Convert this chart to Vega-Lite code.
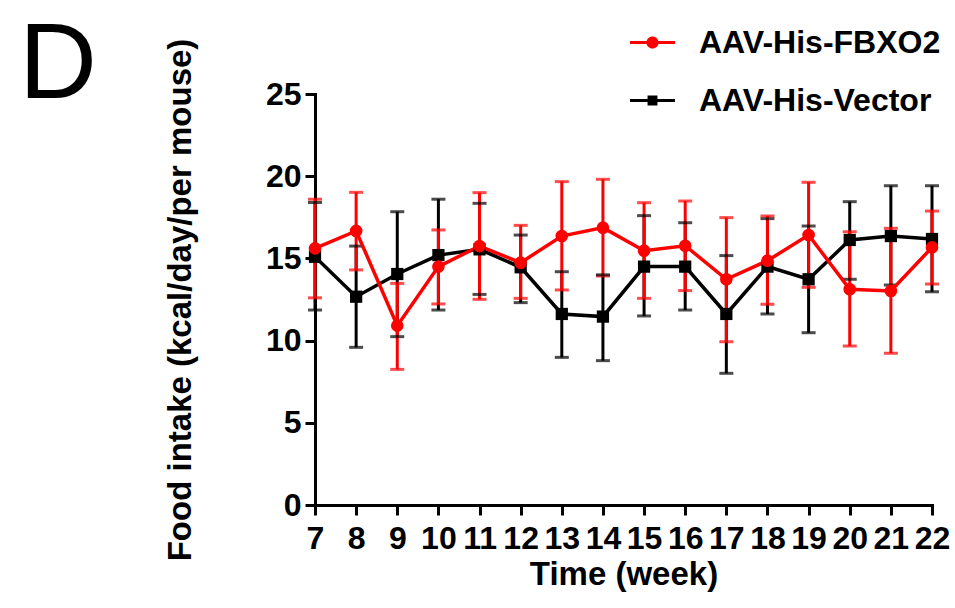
{
  "$schema": "https://vega.github.io/schema/vega-lite/v6.json",
  "width": 617,
  "height": 411,
  "autosize": {"type": "none"},
  "padding": {"left": 315, "top": 94, "right": 23, "bottom": 103},
  "background": "white",
  "config": {
    "view": {"stroke": null},
    "font": "Liberation Sans",
    "axis": {"labelFont": "Liberation Sans", "titleFont": "Liberation Sans", "labelFontWeight": "bold", "titleFontWeight": "bold", "labelColor": "black", "titleColor": "black", "domainColor": "black", "tickColor": "black", "domainWidth": 3, "tickWidth": 3, "tickSize": 10, "grid": false, "domainCap": "square"}
  },
  "title": {"text": "D", "anchor": "start", "frame": "group", "orient": "none", "baseline": "alphabetic", "align": "left", "dx": -296, "offset": 0, "dy": 4, "fontSize": 108, "fontWeight": "normal", "font": "Liberation Sans", "color": "black"},
  "data": {"values": [
    {"week": 7, "group": "AAV-His-Vector", "mean": 15.1, "lo": 11.86, "hi": 18.4},
    {"week": 8, "group": "AAV-His-Vector", "mean": 12.67, "lo": 9.59, "hi": 15.75},
    {"week": 9, "group": "AAV-His-Vector", "mean": 14.05, "lo": 10.24, "hi": 17.84},
    {"week": 10, "group": "AAV-His-Vector", "mean": 15.2, "lo": 11.86, "hi": 18.6},
    {"week": 11, "group": "AAV-His-Vector", "mean": 15.55, "lo": 12.81, "hi": 18.35},
    {"week": 12, "group": "AAV-His-Vector", "mean": 14.46, "lo": 12.31, "hi": 16.42},
    {"week": 13, "group": "AAV-His-Vector", "mean": 11.62, "lo": 8.98, "hi": 14.19},
    {"week": 14, "group": "AAV-His-Vector", "mean": 11.46, "lo": 8.78, "hi": 14.0},
    {"week": 15, "group": "AAV-His-Vector", "mean": 14.5, "lo": 11.5, "hi": 17.6},
    {"week": 16, "group": "AAV-His-Vector", "mean": 14.5, "lo": 11.86, "hi": 17.17},
    {"week": 17, "group": "AAV-His-Vector", "mean": 11.62, "lo": 8.01, "hi": 15.17},
    {"week": 18, "group": "AAV-His-Vector", "mean": 14.5, "lo": 11.62, "hi": 17.42},
    {"week": 19, "group": "AAV-His-Vector", "mean": 13.73, "lo": 10.48, "hi": 16.97},
    {"week": 20, "group": "AAV-His-Vector", "mean": 16.12, "lo": 13.73, "hi": 18.45},
    {"week": 21, "group": "AAV-His-Vector", "mean": 16.36, "lo": 13.38, "hi": 19.42},
    {"week": 22, "group": "AAV-His-Vector", "mean": 16.18, "lo": 12.97, "hi": 19.42},
    {"week": 7, "group": "AAV-His-FBXO2", "mean": 15.61, "lo": 12.6, "hi": 18.6},
    {"week": 8, "group": "AAV-His-FBXO2", "mean": 16.67, "lo": 14.3, "hi": 19.02},
    {"week": 9, "group": "AAV-His-FBXO2", "mean": 10.91, "lo": 8.25, "hi": 13.48},
    {"week": 10, "group": "AAV-His-FBXO2", "mean": 14.5, "lo": 12.23, "hi": 16.73},
    {"week": 11, "group": "AAV-His-FBXO2", "mean": 15.75, "lo": 12.51, "hi": 19.0},
    {"week": 12, "group": "AAV-His-FBXO2", "mean": 14.74, "lo": 12.57, "hi": 17.01},
    {"week": 13, "group": "AAV-His-FBXO2", "mean": 16.36, "lo": 13.08, "hi": 19.67},
    {"week": 14, "group": "AAV-His-FBXO2", "mean": 16.87, "lo": 13.93, "hi": 19.81},
    {"week": 15, "group": "AAV-His-FBXO2", "mean": 15.47, "lo": 12.57, "hi": 18.39},
    {"week": 16, "group": "AAV-His-FBXO2", "mean": 15.77, "lo": 13.04, "hi": 18.49},
    {"week": 17, "group": "AAV-His-FBXO2", "mean": 13.73, "lo": 9.93, "hi": 17.48},
    {"week": 18, "group": "AAV-His-FBXO2", "mean": 14.86, "lo": 12.21, "hi": 17.58},
    {"week": 19, "group": "AAV-His-FBXO2", "mean": 16.42, "lo": 13.24, "hi": 19.63},
    {"week": 20, "group": "AAV-His-FBXO2", "mean": 13.12, "lo": 9.67, "hi": 16.62},
    {"week": 21, "group": "AAV-His-FBXO2", "mean": 13.02, "lo": 9.23, "hi": 16.83},
    {"week": 22, "group": "AAV-His-FBXO2", "mean": 15.67, "lo": 13.44, "hi": 17.88}
  ]},
  "encoding": {
    "x": {"field": "week", "type": "quantitative", "scale": {"domain": [7, 22], "nice": false, "zero": false},
      "axis": {"values": [7,8,9,10,11,12,13,14,15,16,17,18,19,20,21,22], "title": "Time (week)", "labelFontSize": 32, "titleFontSize": 33, "labelPadding": 8, "titlePadding": 4, "labelFlush": false}}
  },
  "layer": [
    {
      "mark": {"type": "rule", "strokeWidth": 3},
      "encoding": {
        "y": {"field": "lo", "type": "quantitative", "scale": {"domain": [0, 25], "nice": false},
          "axis": {"values": [0,5,10,15,20,25], "title": "Food intake (kcal/day/per mouse)", "labelFontSize": 32, "titleFontSize": 33, "labelPadding": 4, "titlePadding": 68}},
        "y2": {"field": "hi"},
        "color": {"field": "group", "type": "nominal", "scale": {"domain": ["AAV-His-FBXO2", "AAV-His-Vector"], "range": ["#ff0000", "#000000"]}}
      }
    },
    {
      "mark": {"type": "tick", "orient": "horizontal", "size": 14, "thickness": 3},
      "encoding": {"y": {"field": "lo", "type": "quantitative"}, "color": {"field": "group", "type": "nominal"}}
    },
    {
      "mark": {"type": "tick", "orient": "horizontal", "size": 14, "thickness": 3},
      "encoding": {"y": {"field": "hi", "type": "quantitative"}, "color": {"field": "group", "type": "nominal"}}
    },
    {
      "mark": {"type": "line", "strokeWidth": 3.5},
      "encoding": {
        "y": {"field": "mean", "type": "quantitative"},
        "color": {"field": "group", "type": "nominal",
          "legend": {
            "orient": "none", "legendX": 315, "legendY": -74, "direction": "vertical",
            "title": null, "symbolSize": 2025, "symbolStrokeWidth": 0,
            "labelFont": "Liberation Sans", "labelFontWeight": "bold", "labelFontSize": 32, "labelColor": "black", "labelOffset": 24, "labelLimit": 500, "rowPadding": 19,
            "encode": {"symbols": {"update": {
              "shape": {"signal": "datum.value == 'AAV-His-FBXO2' ? 'M-1,-0.07H1V0.07H-1Z M0.27,0 A0.27,0.27 0 1,1 -0.27,0 A0.27,0.27 0 1,1 0.27,0 Z' : 'M-1,-0.07H1V0.07H-1Z M-0.22,-0.22H0.22V0.22H-0.22Z'"},
              "fill": {"signal": "datum.value == 'AAV-His-FBXO2' ? '#ff0000' : '#000000'"},
              "stroke": {"value": "transparent"}
            }}}
          }}
      }
    },
    {
      "transform": [{"filter": "datum.group == 'AAV-His-Vector'"}],
      "mark": {"type": "point", "filled": true, "opacity": 1, "size": 150, "shape": "square"},
      "encoding": {
        "y": {"field": "mean", "type": "quantitative"},
        "color": {"field": "group", "type": "nominal"}
      }
    },
    {
      "transform": [{"filter": "datum.group == 'AAV-His-FBXO2'"}],
      "mark": {"type": "point", "filled": true, "opacity": 1, "size": 160, "shape": "circle"},
      "encoding": {
        "y": {"field": "mean", "type": "quantitative"},
        "color": {"field": "group", "type": "nominal"}
      }
    }
  ]
}
